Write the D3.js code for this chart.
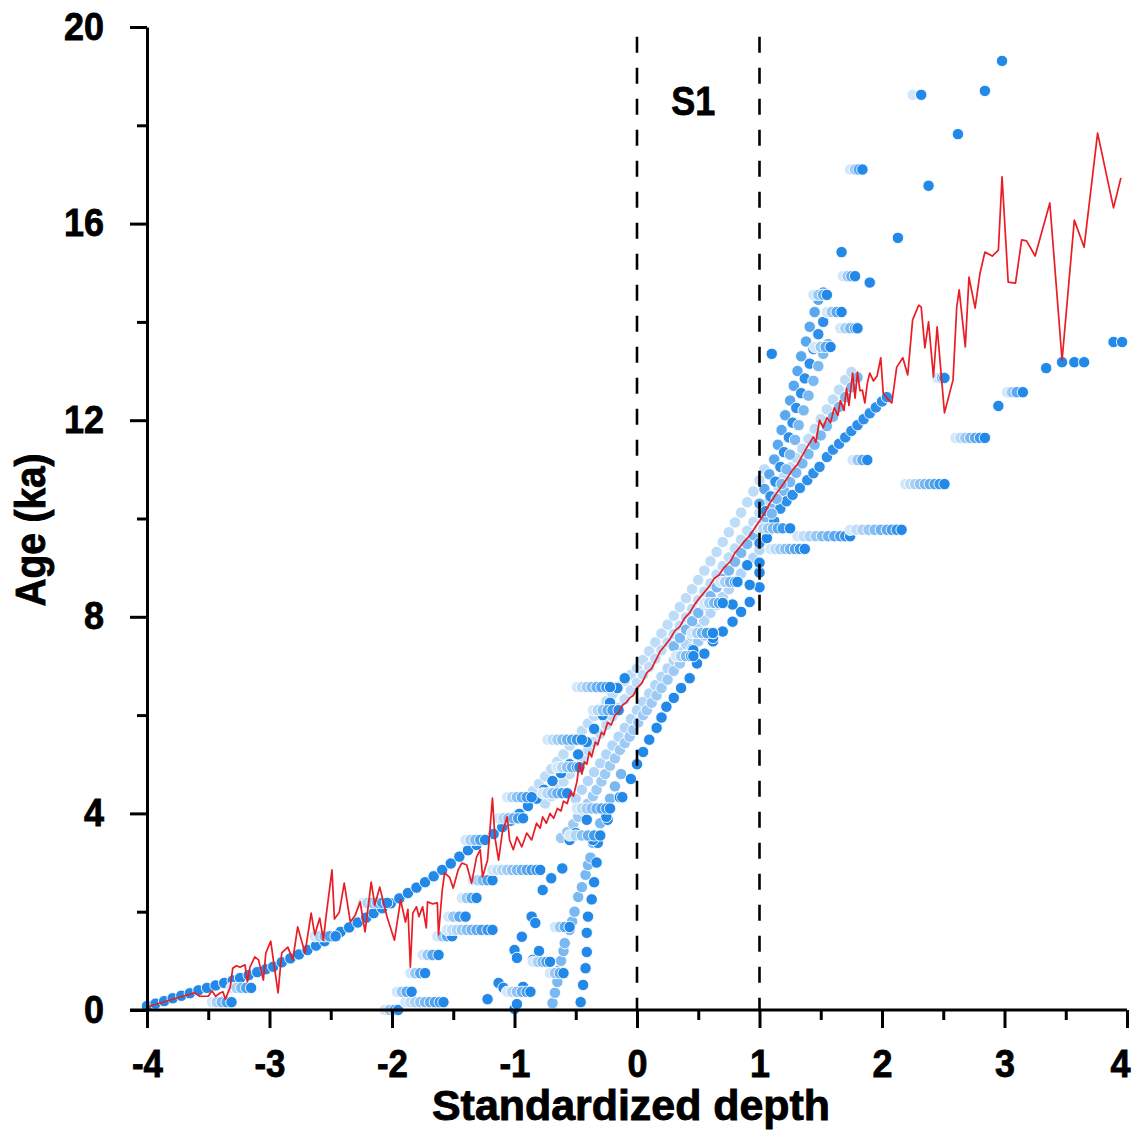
<!DOCTYPE html>
<html>
<head>
<meta charset="utf-8">
<script src="https://cdn.jsdelivr.net/npm/d3@7"></script>
<style>
  body { margin: 0; background: #fff; }
  text { font-family: "Liberation Sans", Arial, sans-serif; font-weight: bold; }
</style>
</head>
<body>
<div id="chart"></div>
<script>
// tick values
var xTicks = [-4, -3, -2, -1, 0, 1, 2, 3, 4];
var xMinorTicks = [-3.5, -2.5, -1.5, -0.5, 0.5, 1.5, 2.5, 3.5];
var yTicks = [0, 4, 8, 12, 16, 20];
var yMinorTicks = [2, 6, 10, 14, 18];
var zoneBounds = [0, 1];

// red line (median age model)
var redLine = [[-4.00,0.06],[-3.61,0.35],[-3.57,0.28],[-3.50,0.28],[-3.47,0.39],[-3.44,0.28],[-3.40,0.35],[-3.38,0.37],[-3.36,0.22],[-3.32,0.47],[-3.30,0.85],[-3.27,0.90],[-3.24,0.87],[-3.20,0.92],[-3.18,0.57],[-3.16,0.87],[-3.12,1.08],[-3.09,1.02],[-3.05,0.61],[-3.03,1.16],[-2.99,1.40],[-2.96,0.87],[-2.93,0.35],[-2.90,1.16],[-2.85,1.28],[-2.81,1.02],[-2.77,1.69],[-2.71,1.16],[-2.66,1.97],[-2.63,1.53],[-2.59,1.87],[-2.56,1.42],[-2.54,1.87],[-2.49,2.85],[-2.47,1.85],[-2.43,1.99],[-2.39,2.58],[-2.34,1.79],[-2.30,1.93],[-2.26,2.20],[-2.22,1.59],[-2.17,2.60],[-2.14,2.14],[-2.10,2.50],[-2.04,1.89],
  [-1.98,1.42],[-1.93,2.24],[-1.89,1.79],[-1.87,2.05],[-1.85,0.87],[-1.83,1.97],[-1.80,2.10],[-1.78,1.90],[-1.75,2.10],[-1.72,1.67],[-1.71,2.20],[-1.67,2.16],[-1.63,2.18],[-1.62,1.53],[-1.59,2.44],[-1.57,2.79],[-1.53,2.70],[-1.50,2.48],[-1.46,2.85],[-1.43,2.99],[-1.39,2.95],[-1.35,2.58],[-1.31,3.11],[-1.28,3.26],[-1.26,2.71],[-1.22,3.05],[-1.18,4.31],[-1.16,3.52],[-1.13,3.05],[-1.10,3.60],[-1.06,3.93],[-1.04,3.46],[-1.01,3.26],[-0.98,3.52],[-0.94,3.32],[-0.90,3.60],[-0.86,3.46],[-0.82,3.80],
  [-0.79,3.70],[-0.77,3.93],[-0.74,3.80],[-0.71,4.00],[-0.68,3.90],[-0.65,4.10],[-0.62,4.05],[-0.60,4.25],[-0.57,4.20],[-0.54,4.45],[-0.52,4.35],[-0.49,4.65],[-0.47,5.03],[-0.45,4.80],[-0.43,5.05],[-0.41,5.00],[-0.39,5.25],[-0.37,5.15],[-0.34,5.45],[-0.32,5.40],[-0.29,5.65],[-0.27,5.60],[-0.24,5.85],[-0.21,5.80],[-0.18,6.00],[-0.15,6.05],[-0.12,6.20],[-0.09,6.25],[-0.06,6.35],[-0.03,6.40],[0.00,6.55],[0.04,6.65],[0.08,6.86],[0.12,6.95],[0.16,7.15],[0.19,7.30],[0.23,7.42],[0.27,7.55],[0.31,7.72],[0.35,7.80],[0.39,7.98],[0.43,8.08],[0.47,8.25],[0.51,8.38],[0.55,8.50],[0.59,8.62],[0.63,8.78],[0.67,8.85],[0.71,9.00],[0.76,9.12],[0.80,9.30],[0.84,9.42],[0.88,9.55],[0.92,9.65],[0.96,9.80],[1.00,9.95],[1.04,10.10],[1.08,10.30],[1.11,10.40],[1.14,10.52],[1.18,10.65],[1.22,10.80],[1.27,10.99],[1.31,11.10],[1.36,11.33],[1.40,11.50],[1.44,11.66],[1.46,11.55],[1.49,12.00],[1.52,11.85],[1.55,12.05],[1.58,11.95],[1.61,12.25],[1.64,12.10],[1.66,12.40],[1.69,12.20],[1.71,12.65],[1.73,12.30],[1.76,12.96],[1.78,12.45],[1.80,12.98],[1.82,12.60],[1.84,12.61],[1.86,12.35],[1.88,12.75],[1.90,12.96],[1.93,12.80],[1.96,12.90],[1.99,13.27],[2.01,12.55],[2.04,12.45],[2.08,12.35],[2.12,13.08],[2.17,13.27],[2.21,12.92],[2.25,14.04],[2.30,14.34],[2.32,14.30],[2.35,13.47],[2.38,14.00],[2.42,12.88],[2.45,13.90],[2.51,12.15],[2.58,12.82],[2.61,14.30],[2.63,14.65],[2.68,13.49],[2.71,14.91],[2.76,14.28],[2.80,14.99],[2.84,15.42],[2.90,15.34],[2.95,15.46],[2.98,16.95],[3.03,14.81],[3.09,14.79],[3.14,15.67],[3.18,15.65],[3.25,15.34],[3.37,16.42],[3.47,13.22],[3.57,16.07],[3.65,15.52],[3.76,17.84],[3.89,16.32],[3.95,16.93]];

// blue age-depth model points: continuous series
var mainCurve = [[-4.00,0.08],[-3.93,0.13],[-3.86,0.18],[-3.79,0.24],[-3.72,0.29],[-3.65,0.34],[-3.58,0.40],[-3.51,0.45],[-3.44,0.50],[-3.37,0.55],[-3.30,0.60],[-3.24,0.65],[-3.17,0.71],[-3.10,0.77],[-3.03,0.83],[-2.97,0.88],[-2.90,0.97],[-2.83,1.05],[-2.76,1.13],[-2.69,1.22],[-2.62,1.31],[-2.55,1.40],[-2.49,1.49],[-2.42,1.59],[-2.35,1.68],[-2.28,1.78],[-2.21,1.88],[-2.15,1.97],[-2.08,2.07],[-2.01,2.17],[-1.94,2.27],[-1.87,2.38],[-1.80,2.49],[-1.73,2.60],[-1.66,2.72],[-1.59,2.85],[-1.52,2.98],[-1.45,3.12],[-1.38,3.25],[-1.31,3.36],[-1.24,3.47],[-1.17,3.58],[-1.10,3.72],[-1.03,3.85],[-0.96,3.99],[-0.89,4.15],[-0.82,4.30],[-0.76,4.48],[-0.69,4.66],[-0.62,4.82],[-0.55,5.00],[-0.48,5.20],[-0.41,5.45],[-0.35,5.72],[-0.28,6.00],[-0.22,6.25],[-0.16,6.55],[-0.10,6.75]];
var colL1 = [[-0.46,0.16],[-0.44,0.51],[-0.42,0.85],[-0.41,1.18],[-0.41,1.57],[-0.40,1.90],[-0.37,2.25],[-0.35,2.60],[-0.33,3.00],[-0.32,3.40],[-0.24,3.87],[-0.14,4.33],[-0.05,4.70],[0.00,5.00],[0.05,5.25],[0.10,5.50],[0.16,5.74],[0.20,5.95],[0.24,6.17],[0.30,6.35],[0.36,6.55],[0.43,6.75],[0.49,7.05],[0.55,7.25],[0.62,7.50],[0.70,7.70],[0.78,7.90],[0.85,8.10],[0.92,8.30],[1.00,8.60],[1.00,8.90],[1.00,9.10]];
var colL2 = [[-0.69,0.14],[-0.67,0.35],[-0.65,0.57],[-0.64,0.80],[-0.62,1.00],[-0.60,1.20],[-0.59,1.36],[-0.55,1.63],[-0.53,1.80],[-0.51,2.00],[-0.48,2.30],[-0.45,2.50],[-0.42,2.75],[-0.40,2.95],[-0.38,3.10],[-0.36,3.40],[-0.30,3.80],[-0.26,4.05],[-0.22,4.30],[-0.18,4.55],[-0.13,4.80]];
var bandUa = [[-0.90,4.30],[-0.85,4.45],[-0.80,4.60],[-0.75,4.75],[-0.70,4.90],[-0.65,5.05],[-0.60,5.20],[-0.55,5.38],[-0.50,5.52],[-0.45,5.68],[-0.40,5.83],[-0.35,5.98],[-0.30,6.13],[-0.25,6.28],[-0.20,6.43],[-0.15,6.58],[-0.10,6.70],[-0.05,6.82],[0.00,6.95],[0.05,7.12],[0.10,7.30],[0.15,7.48],[0.20,7.66],[0.25,7.84],[0.30,8.02],[0.35,8.20],[0.40,8.38],[0.45,8.56],[0.50,8.75],[0.55,8.94],[0.60,9.13],[0.65,9.32],[0.70,9.52],[0.75,9.72],[0.80,9.92],[0.85,10.12],[0.90,10.33],[0.95,10.55],[1.00,10.78],[1.04,11.00]];
var steepU1 = [[1.00,10.30],[1.04,10.60],[1.08,10.90],[1.12,11.20],[1.15,11.50],[1.18,11.80],[1.21,12.10],[1.25,12.40],[1.28,12.70],[1.31,13.00],[1.34,13.30],[1.38,13.60],[1.41,13.90],[1.45,14.20],[1.48,14.45],[1.52,14.60]];
var steepU1b = [[1.05,10.15],[1.09,10.45],[1.13,10.75],[1.17,11.05],[1.20,11.35],[1.24,11.65],[1.27,11.95],[1.30,12.25],[1.34,12.55],[1.37,12.85],[1.41,13.15],[1.44,13.45],[1.48,13.75],[1.52,14.00],[1.56,14.20]];
var steepU1c = [[1.10,10.10],[1.14,10.40],[1.18,10.70],[1.22,11.00],[1.25,11.30],[1.29,11.60],[1.32,11.90],[1.36,12.20],[1.40,12.50],[1.44,12.80],[1.48,13.10],[1.52,13.35],[1.56,13.55]];
var bandUb = [[-0.75,4.20],[-0.70,4.35],[-0.65,4.50],[-0.60,4.65],[-0.55,4.80],[-0.50,4.95],[-0.45,5.12],[-0.40,5.28],[-0.35,5.45],[-0.30,5.62],[-0.25,5.80],[-0.20,5.97],[-0.15,6.15],[-0.10,6.32],[-0.05,6.50],[0.00,6.66],[0.05,6.82],[0.10,6.98],[0.15,7.15],[0.20,7.32],[0.25,7.48],[0.30,7.65],[0.35,7.82],[0.40,7.99],[0.45,8.16],[0.50,8.34],[0.55,8.51],[0.60,8.68],[0.65,8.86],[0.70,9.03],[0.75,9.21],[0.80,9.39],[0.85,9.57],[0.90,9.75],[0.95,9.93],[1.00,10.11],[1.05,10.29],[1.10,10.47],[1.15,10.66],[1.20,10.85],[1.25,11.04],[1.30,11.23],[1.35,11.42],[1.40,11.62],[1.45,11.82],[1.50,12.02],[1.55,12.22],[1.60,12.42],[1.65,12.62],[1.70,12.82],[1.75,12.98]];
var bandU2 = [[0.30,7.40],[0.35,7.57],[0.40,7.74],[0.45,7.91],[0.50,8.08],[0.55,8.25],[0.60,8.42],[0.65,8.60],[0.70,8.77],[0.75,8.94],[0.80,9.12],[0.85,9.30],[0.90,9.48],[0.95,9.66],[1.00,9.84],[1.05,10.02],[1.10,10.20],[1.15,10.38],[1.20,10.56],[1.25,10.74],[1.30,10.93],[1.35,11.12],[1.40,11.31],[1.45,11.50],[1.50,11.69],[1.55,11.88],[1.60,12.07],[1.65,12.27],[1.70,12.47],[1.75,12.67],[1.80,12.87]];
var bandUc = [[-0.50,4.30],[-0.45,4.48],[-0.40,4.66],[-0.35,4.84],[-0.30,5.02],[-0.25,5.20],[-0.20,5.38],[-0.15,5.56],[-0.10,5.74],[-0.05,5.92],[0.00,6.10],[0.05,6.27],[0.10,6.44],[0.15,6.61],[0.20,6.78],[0.25,6.95],[0.30,7.12],[0.35,7.28],[0.40,7.44],[0.45,7.60],[0.50,7.76],[0.55,7.92],[0.60,8.08],[0.65,8.24],[0.70,8.40],[0.75,8.56],[0.80,8.72],[0.85,8.88],[0.90,9.04],[0.95,9.20],[1.00,9.36]];
var bandU3 = [[1.00,9.50],[1.06,9.65],[1.12,9.95],[1.17,10.20],[1.22,10.35],[1.27,10.48],[1.33,10.62],[1.39,10.78],[1.44,10.92],[1.49,11.05],[1.55,11.25],[1.60,11.40],[1.65,11.52],[1.70,11.65],[1.75,11.78],[1.80,11.90],[1.85,12.02],[1.90,12.14],[1.95,12.26],[2.00,12.38],[2.04,12.47]];
var bandUd = [[-0.62,3.50],[-0.57,3.62],[-0.52,3.78],[-0.48,3.93],[-0.44,4.07],[-0.40,4.20],[-0.36,4.35],[-0.33,4.48],[-0.29,4.65],[-0.26,4.80],[-0.22,4.97],[-0.18,5.12],[-0.14,5.29],[-0.10,5.43],[-0.06,5.56],[-0.03,5.70],[0.01,5.85],[0.05,6.00],[0.08,6.10],[0.12,6.25],[0.16,6.40],[0.20,6.55],[0.25,6.72],[0.30,6.90],[0.35,7.05],[0.40,7.20],[0.45,7.35],[0.50,7.50],[0.55,7.62]];

// single dark points
var lowScatter = [[-1.22,0.22],[-1.13,0.55],[-1.09,0.45],[-0.93,0.47],[-1.00,0.02],[-0.98,0.12],[-1.00,1.22],[-0.98,1.06],[-0.94,1.49],[-0.86,1.90],[-0.83,1.77],[-0.77,2.44],[-0.70,2.68],[-0.61,2.88],[-0.55,3.46],[-0.50,3.60],[-0.41,3.87],[-0.85,1.02],[-0.80,1.20],[-0.36,3.46],[-0.25,3.93],[-0.12,4.33]];
var fanDots = [[0.46,7.32],[0.62,7.57],[0.82,8.71],[0.70,8.28],[0.62,7.67],[0.92,8.65],[0.78,8.25],[1.06,9.60],[0.90,9.05]];
var outliers = [[2.98,19.31],[2.84,18.70],[2.62,17.82],[2.38,16.77],[2.13,15.71],[1.67,15.42],[1.90,14.80],[1.10,13.35],[2.95,12.29],[3.34,13.06],[3.47,13.18],[3.57,13.18],[3.65,13.18],[3.89,13.59],[3.96,13.59]];

// horizontal clusters of repeated ages: [age, depths]
var stepClusters = [
  [0.00, [-2.06,-2.02,-1.98,-1.95]],
  [0.16, [-3.47,-3.43,-3.39,-3.35,-3.31]],
  [0.45, [-3.31,-3.27,-3.23,-3.19,-3.15]],
  [1.50, [-2.63,-2.59,-2.55,-2.51,-2.46]],
  [2.18, [-2.24,-2.20,-2.16,-2.12,-2.08,-2.04]],
  [0.16, [-1.89,-1.85,-1.81,-1.77,-1.73,-1.69,-1.65,-1.61,-1.58]],
  [0.37, [-1.96,-1.92,-1.88,-1.84]],
  [0.75, [-1.85,-1.81,-1.77,-1.73]],
  [1.12, [-1.75,-1.71,-1.67,-1.62]],
  [1.50, [-1.63,-1.59,-1.55,-1.51]],
  [1.63, [-1.55,-1.51,-1.47,-1.43,-1.39,-1.35,-1.31,-1.27,-1.22,-1.18]],
  [1.90, [-1.54,-1.50,-1.45,-1.40]],
  [2.28, [-1.43,-1.39,-1.35,-1.31]],
  [2.64, [-1.34,-1.30,-1.26,-1.22,-1.18]],
  [2.85, [-1.18,-1.14,-1.10,-1.06,-1.02,-0.98,-0.94,-0.90,-0.86,-0.82,-0.79]],
  [3.46, [-1.40,-1.36,-1.32,-1.28,-1.24]],
  [3.90, [-1.13,-1.09,-1.05,-1.01,-0.97,-0.93]],
  [4.33, [-1.06,-1.02,-0.98,-0.94,-0.90,-0.86]],
  [0.37, [-1.06,-1.02,-0.98,-0.94,-0.90,-0.87]],
  [0.98, [-0.85,-0.81,-0.77,-0.74,-0.71]],
  [0.75, [-0.71,-0.67,-0.63,-0.60]],
  [1.69, [-0.67,-0.63,-0.59,-0.55]],
  [3.55, [-0.55,-0.50,-0.45,-0.40,-0.35,-0.30]],
  [4.10, [-0.49,-0.45,-0.41,-0.37,-0.33,-0.29,-0.25,-0.22]],
  [4.41, [-0.77,-0.73,-0.69,-0.65,-0.61,-0.57]],
  [4.94, [-0.65,-0.61,-0.57,-0.53,-0.49,-0.47]],
  [5.50, [-0.73,-0.69,-0.65,-0.61,-0.57,-0.53,-0.49,-0.45]],
  [6.10, [-0.36,-0.32,-0.28,-0.24,-0.20,-0.15]],
  [6.57, [-0.49,-0.45,-0.41,-0.37,-0.33,-0.29,-0.25,-0.22]],
  [7.20, [0.32,0.36,0.40,0.44,0.46]],
  [7.67, [0.45,0.49,0.53,0.57,0.62]],
  [8.28, [0.55,0.59,0.63,0.67,0.70]],
  [8.71, [0.68,0.72,0.76,0.80,0.82]],
  [9.38, [1.09,1.13,1.17,1.21,1.25,1.29,1.33,1.37]],
  [9.64, [1.31,1.36,1.41,1.46,1.51,1.56,1.61,1.66,1.70,1.74]],
  [9.77, [1.74,1.79,1.84,1.89,1.94,1.99,2.04,2.08,2.12,2.16]],
  [9.80, [0.99,1.03,1.07,1.11,1.15,1.19,1.25]],
  [10.70, [2.19,2.23,2.27,2.31,2.35,2.39,2.43,2.47,2.51]],
  [11.19, [1.76,1.80,1.84,1.88]],
  [11.64, [2.60,2.64,2.68,2.72,2.76,2.80,2.84]],
  [12.86, [2.45,2.49,2.51]],
  [12.57, [3.02,3.06,3.10,3.15]],
  [13.49, [1.45,1.50,1.54,1.58]],
  [13.87, [1.66,1.70,1.74,1.78,1.80]],
  [14.20, [1.55,1.59,1.63,1.67]],
  [14.55, [1.44,1.48,1.52,1.55]],
  [14.93, [1.68,1.72,1.75,1.78]],
  [17.10, [1.74,1.78,1.81,1.84]],
  [18.62, [2.25,2.32]]
];

// series with their darkness
var lineSeries = [
  {pts: bandUa, a: 0.3}, {pts: bandUb, a: 0.3}, {pts: bandUc, a: 0.35}, {pts: bandUd, a: 0.45},
  {pts: bandU2, a: 0.6}, {pts: bandU3, a: 0.95}, {pts: steepU1, a: 0.75}, {pts: steepU1b, a: 0.95},
  {pts: steepU1c, a: 0.6}, {pts: colL2, a: 0.6}, {pts: colL1, a: 1}, {pts: mainCurve, a: 1},
  {pts: lowScatter, a: 1}, {pts: fanDots, a: 1}, {pts: outliers, a: 1}
];

var svgWidth = 1137;
var svgHeight = 1133;
var margin = {top: 27, right: 10, bottom: 123, left: 147};
var chartWidth = svgWidth - margin.left - margin.right;
var chartHeight = svgHeight - margin.top - margin.bottom;

var svg = d3.select("#chart").append("svg")
  .attr("width", svgWidth)
  .attr("height", svgHeight);

var chartGroup = svg.append("g")
  .attr("transform", `translate(${margin.left}, ${margin.top})`);

var xScale = d3.scaleLinear().domain([-4, 4]).range([0, chartWidth]);
var yScale = d3.scaleLinear().domain([0, 20]).range([chartHeight, 0]);

// flatten points, clusters fade from light (left) to dark (right)
var dots = [];
lineSeries.forEach(function(s) {
  s.pts.forEach(function(p) { dots.push({x: p[0], y: p[1], a: s.a}); });
});
stepClusters.forEach(function(c) {
  var n = c[1].length;
  c[1].forEach(function(x, i) {
    dots.push({x: x, y: c[0], a: n > 1 ? 0.2 + 0.8 * i / (n - 1) : 1});
  });
});

var blue = "#2289e8";

chartGroup.append("g").selectAll("circle")
  .data(dots)
  .enter().append("circle")
  .attr("cx", d => xScale(d.x))
  .attr("cy", d => yScale(d.y))
  .attr("r", 5.7)
  .attr("fill", d => d3.interpolateRgb("#ffffff", blue)(d.a))
  .attr("stroke", "#ffffff")
  .attr("stroke-width", 0.9);

// red line
var line = d3.line().x(d => xScale(d[0])).y(d => yScale(d[1]));
chartGroup.append("path")
  .datum(redLine)
  .attr("d", line)
  .attr("fill", "none")
  .attr("stroke", "#ea1c24")
  .attr("stroke-width", 1.7)
  .attr("stroke-linejoin", "round");

// dashed zone boundaries
chartGroup.selectAll(".zone")
  .data(zoneBounds)
  .enter().append("line")
  .attr("x1", d => xScale(d))
  .attr("x2", d => xScale(d))
  .attr("y1", yScale(19.8))
  .attr("y2", yScale(0))
  .attr("stroke", "#000")
  .attr("stroke-width", 2.6)
  .attr("stroke-dasharray", "16,15");

chartGroup.append("text")
  .attr("x", xScale(0.46))
  .attr("y", yScale(18.2))
  .attr("text-anchor", "middle")
  .attr("font-size", "40px")
  .attr("textLength", 44)
  .attr("lengthAdjust", "spacingAndGlyphs")
  .attr("stroke", "#000")
  .attr("stroke-width", 0.8)
  .text("S1");

// axes
var yAxis = d3.axisLeft(yScale).tickValues(yTicks).tickSize(17).tickPadding(26).tickSizeOuter(0);
var yMinor = d3.axisLeft(yScale).tickValues(yMinorTicks).tickSize(10).tickFormat("");
var xAxis = d3.axisBottom(xScale).tickValues(xTicks).tickSize(18).tickPadding(22).tickFormat(d => String(d));
var xMinor = d3.axisBottom(xScale).tickValues(xMinorTicks).tickSize(10).tickFormat("");

var gy = chartGroup.append("g").call(yAxis);
chartGroup.append("g").call(yMinor).select(".domain").remove();
var gx = chartGroup.append("g").attr("transform", `translate(0, ${chartHeight})`).call(xAxis);
chartGroup.append("g").attr("transform", `translate(0, ${chartHeight})`).call(xMinor).select(".domain").remove();
gx.select(".domain").remove();

chartGroup.append("line")
  .attr("x1", -17).attr("x2", chartWidth)
  .attr("y1", chartHeight).attr("y2", chartHeight)
  .attr("stroke", "#000").attr("stroke-width", 3);

chartGroup.selectAll(".tick line").attr("stroke-width", 3);
gy.select(".domain").attr("stroke-width", 3);
chartGroup.selectAll(".tick text")
  .attr("font-size", "38px")
  .attr("fill", "#000")
  .attr("stroke", "#000")
  .attr("stroke-width", 0.8)
  .attr("textLength", function() {
    var t = this.textContent;
    return t.replace("-", "").length * 20 + (t.indexOf("-") >= 0 ? 11 : 0);
  })
  .attr("lengthAdjust", "spacingAndGlyphs")
  .style("font-family", null);

// keep the last x label inside the frame
gx.selectAll(".tick text").filter(d => d === 4).attr("dx", -7);

// axis titles
chartGroup.append("text")
  .attr("x", 631 - margin.left)
  .attr("y", chartHeight + 110)
  .attr("text-anchor", "middle")
  .attr("font-size", "43px")
  .attr("textLength", 398)
  .attr("lengthAdjust", "spacingAndGlyphs")
  .attr("stroke", "#000")
  .attr("stroke-width", 0.9)
  .text("Standardized depth");

chartGroup.append("text")
  .attr("transform", "rotate(-90)")
  .attr("x", 0 - (530 - margin.top))
  .attr("y", 45 - margin.left)
  .attr("text-anchor", "middle")
  .attr("font-size", "43px")
  .attr("textLength", 153)
  .attr("lengthAdjust", "spacingAndGlyphs")
  .attr("stroke", "#000")
  .attr("stroke-width", 0.9)
  .text("Age (ka)");
</script>
</body>
</html>
